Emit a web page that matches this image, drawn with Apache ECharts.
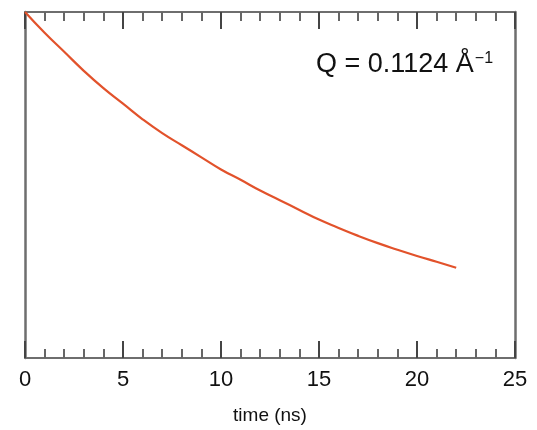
<!DOCTYPE html>
<html>
<head>
<meta charset="utf-8">
<script src="https://cdn.jsdelivr.net/npm/echarts@6/dist/echarts.min.js"></script>
<style>
  html, body { margin: 0; padding: 0; background: #fff; }
  #chart { width: 537px; height: 430px; }
</style>
</head>
<body>
<div id="chart"></div>
<script>
// Normalised intermediate scattering decay at fixed Q
const timeNs = [0, 1, 2, 3, 4, 5, 6, 7, 8, 9, 10, 11, 12, 13, 14, 15, 16, 17, 18, 19, 20, 21, 22];
const decay = [1.00, 0.94, 0.885, 0.83, 0.78, 0.735, 0.69, 0.65, 0.615, 0.58, 0.545, 0.515,
               0.484, 0.456, 0.428, 0.400, 0.376, 0.353, 0.332, 0.313, 0.295, 0.278, 0.261];
const xTicks = [0, 5, 10, 15, 20, 25];
const qLabel = 'Q = 0.1124 Å';

const axisColor = '#6e6e6e';
const font = 'Liberation Sans, Arial, Helvetica, sans-serif';

const chart = echarts.init(document.getElementById('chart'), null, { renderer: 'canvas' });

function xAxisDef(pos, showLabels) {
  return {
    type: 'value',
    position: pos,
    min: xTicks[0],
    max: xTicks[xTicks.length - 1],
    interval: 5,
    splitLine: { show: false },
    axisLine: { show: true, onZero: false, lineStyle: { color: axisColor, width: 2 } },
    axisTick: { show: true, inside: true, length: 17, lineStyle: { color: '#444', width: 2 } },
    minorTick: { show: true, splitNumber: 5, length: 9, lineStyle: { color: '#666', width: 2 } },
    axisLabel: {
      show: showLabels, color: '#111', fontSize: 22, fontFamily: font, margin: 11
    },
    name: showLabels ? 'time (ns)' : '',
    nameLocation: 'middle',
    nameGap: 48,
    nameTextStyle: { color: '#111', fontSize: 19, fontFamily: font }
  };
}

function yAxisDef(pos) {
  return {
    type: 'value',
    position: pos,
    min: 0,
    max: 1,
    splitLine: { show: false },
    axisLine: { show: true, onZero: false, lineStyle: { color: axisColor, width: 2.5 } },
    axisTick: { show: false },
    axisLabel: { show: false }
  };
}

chart.setOption({
  backgroundColor: '#fff',
  animation: false,
  grid: { left: 25, right: 22, top: 12, bottom: 70 },
  xAxis: [xAxisDef('bottom', true), xAxisDef('top', false)],
  yAxis: [yAxisDef('left'), yAxisDef('right')],
  series: [{
    type: 'line',
    xAxisIndex: 0,
    yAxisIndex: 0,
    smooth: 0.5,
    showSymbol: false,
    lineStyle: { color: '#e2522b', width: 2.2 },
    data: timeNs.map((t, i) => [t, decay[i]])
  }],
  graphic: [{
    type: 'text',
    left: 316,
    top: 46,
    style: {
      text: '{main|' + qLabel + '}{sup|−1}',
      rich: {
        main: { fontSize: 27, fontFamily: font, fill: '#111', verticalAlign: 'bottom', lineHeight: 32 },
        sup: { fontSize: 16, fontFamily: font, fill: '#111', verticalAlign: 'top', lineHeight: 32, padding: [5, 0, 0, 1] }
      }
    }
  }]
});
</script>
</body>
</html>
